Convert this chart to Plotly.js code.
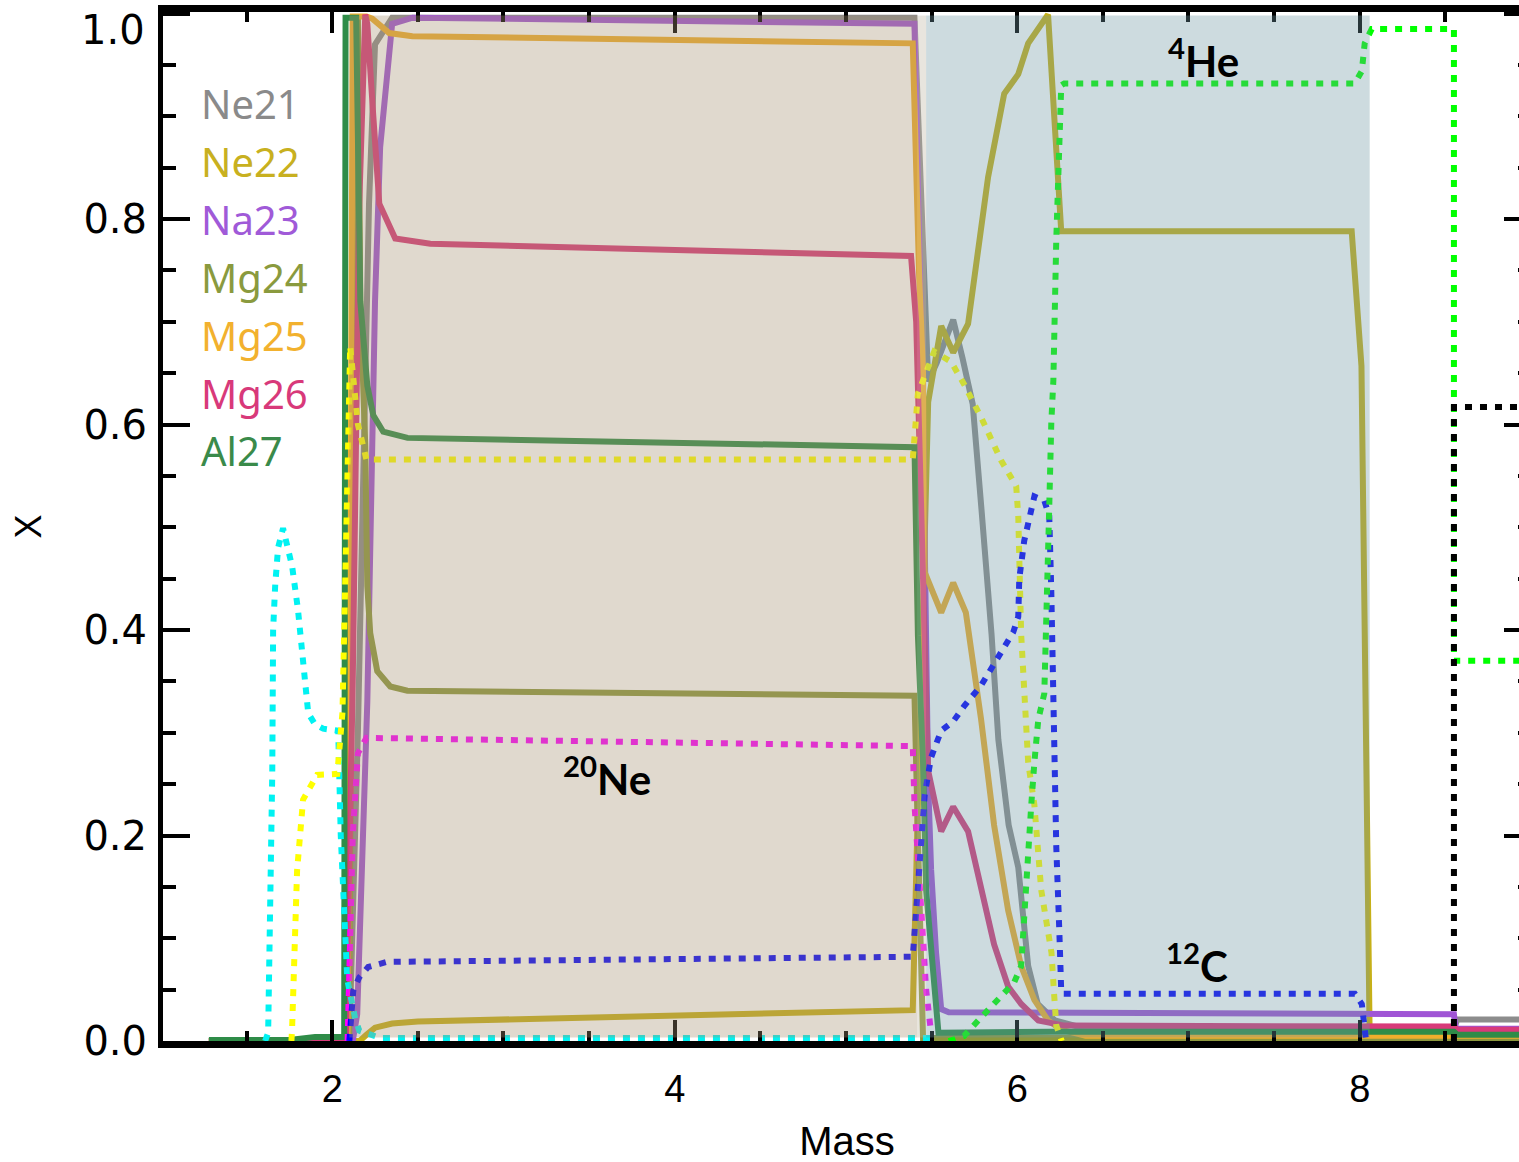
<!DOCTYPE html>
<html><head><meta charset="utf-8">
<script src="https://cdn.plot.ly/plotly-3.0.1.min.js"></script>
<style>html,body{margin:0;padding:0;overflow:hidden;background:#fff;width:1519px;height:1162px}#chart{width:1560px;height:1200px}</style>
</head><body><div id="chart"></div>
<script>
// ---- data (Mass coordinate, mass fraction X) ----
const ne21X = [1.28, 2.10, 2.15, 2.19, 2.215, 2.25, 2.35, 5.40, 5.48, 5.53, 5.626, 5.68, 5.74, 5.79, 5.85, 5.89, 5.95, 6.006, 6.064, 6.12, 6.22, 6.40, 8.55, 8.57, 9.00];
const ne21Y = [0, 0, 0.30, 0.60, 0.815, 0.97, 0.996, 0.996, 0.642, 0.66, 0.702, 0.665, 0.62, 0.52, 0.396, 0.293, 0.21, 0.169, 0.073, 0.036, 0.02, 0.012, 0.012, 0.021, 0.021];
const ne22X = [1.28, 2.16, 2.20, 2.25, 2.35, 2.50, 5.39, 5.43, 5.48, 5.556, 5.626, 5.713, 5.83, 5.924, 6.006, 6.064, 6.18, 6.257, 7.953, 8.01, 8.03, 8.058, 9.00];
const ne22Y = [0, 0, 0.006, 0.013, 0.017, 0.019, 0.030, 0.30, 0.622, 0.696, 0.67, 0.698, 0.841, 0.922, 0.941, 0.971, 0.999, 0.788, 0.788, 0.657, 0.33, 0.003, 0.003];
const na23X = [1.28, 2.12, 2.146, 2.205, 2.25, 2.28, 2.35, 2.47, 5.40, 5.45, 5.48, 5.497, 5.526, 5.556, 5.60, 8.55, 8.56, 9.00];
const na23Y = [0, 0, 0.026, 0.33, 0.72, 0.87, 0.99, 0.996, 0.99, 0.60, 0.25, 0.167, 0.086, 0.031, 0.028, 0.026, 0.012, 0.012];
const mg24X = [1.28, 2.10, 2.13, 2.15, 2.164, 2.193, 2.205, 2.222, 2.263, 2.339, 2.439, 5.40, 5.42, 5.45, 9.00];
const mg24Y = [0, 0, 0.996, 0.996, 0.72, 0.58, 0.443, 0.397, 0.36, 0.345, 0.341, 0.336, 0.20, 0.003, 0.003];
const mg25X = [1.28, 2.09, 2.11, 2.12, 2.20, 2.234, 2.333, 2.468, 5.39, 5.41, 5.427, 5.45, 5.46, 5.556, 5.626, 5.70, 5.789, 5.865, 5.947, 6.023, 6.10, 6.18, 6.257, 6.40, 9.00];
const mg25Y = [0, 0, 0.6, 0.997, 0.997, 0.995, 0.981, 0.978, 0.971, 0.844, 0.747, 0.65, 0.456, 0.417, 0.446, 0.417, 0.313, 0.21, 0.127, 0.073, 0.04, 0.02, 0.011, 0.005, 0.005];
const mg26X = [1.28, 2.08, 2.12, 2.158, 2.193, 2.205, 2.24, 2.275, 2.368, 2.573, 5.38, 5.41, 5.45, 5.48, 5.556, 5.626, 5.713, 5.789, 5.865, 5.947, 6.023, 6.123, 6.275, 8.55, 8.57, 9.00];
const mg26Y = [0, 0, 0.35, 0.815, 0.999, 0.99, 0.9, 0.815, 0.781, 0.776, 0.764, 0.70, 0.45, 0.263, 0.204, 0.228, 0.204, 0.148, 0.094, 0.053, 0.036, 0.02, 0.015, 0.014, 0.011, 0.011];
const al27X = [1.28, 1.75, 1.90, 2.05, 2.07, 2.078, 2.14, 2.164, 2.205, 2.24, 2.298, 2.44, 5.40, 5.42, 5.45, 5.468, 5.54, 6.20, 8.55, 8.57, 9.00];
const al27Y = [0.001, 0.001, 0.004, 0.004, 0.004, 0.996, 0.996, 0.72, 0.638, 0.609, 0.593, 0.587, 0.578, 0.395, 0.271, 0.147, 0.008, 0.009, 0.009, 0.006, 0.006];

const cyanX = [1.608, 1.626, 1.65, 1.655, 1.667, 1.684, 1.713, 1.766, 1.80, 1.825, 1.86, 1.90, 1.947, 2.035, 2.05, 2.088, 2.134, 2.158, 2.28, 5.41, 5.50];
const cyanY = [0, 0.008, 0.26, 0.40, 0.443, 0.48, 0.499, 0.462, 0.42, 0.375, 0.319, 0.308, 0.304, 0.302, 0.2, 0.06, 0.022, 0.01, 0.003, 0.003, 0.003];
const yellowX = [1.762, 1.766, 1.795, 1.83, 1.912, 2.03, 2.06, 2.08, 2.105, 2.15, 2.20, 5.39, 5.42, 5.515, 5.614, 5.69, 5.789, 5.906, 5.994, 6.006, 6.023, 6.064, 6.10, 6.14, 6.20, 6.216, 6.228, 6.26];
const yellowY = [0, 0.013, 0.166, 0.235, 0.259, 0.26, 0.32, 0.5, 0.676, 0.60, 0.566, 0.566, 0.63, 0.671, 0.661, 0.639, 0.607, 0.565, 0.54, 0.511, 0.396, 0.271, 0.23, 0.147, 0.086, 0.044, 0.015, 0];
const magentaX = [2.09, 2.12, 2.15, 2.20, 5.39, 5.40, 5.44, 5.468, 5.497];
const magentaY = [0, 0.2, 0.28, 0.295, 0.287, 0.23, 0.127, 0.05, 0.008];
const blueX = [2.10, 2.123, 2.158, 2.21, 2.32, 5.39, 5.42, 5.46, 5.497, 5.556, 5.626, 5.69, 5.789, 5.889, 5.977, 6.006, 6.012, 6.041, 6.10, 6.158, 6.187, 6.199, 6.211, 6.228, 6.246, 6.257, 6.27, 7.971, 8.012, 8.023, 8.035];
const blueY = [0, 0.049, 0.062, 0.072, 0.077, 0.082, 0.15, 0.24, 0.276, 0.302, 0.311, 0.326, 0.346, 0.375, 0.398, 0.413, 0.45, 0.487, 0.53, 0.526, 0.511, 0.437, 0.313, 0.189, 0.106, 0.048, 0.046, 0.046, 0.036, 0.02, 0.003];
const greenDotX = [5.60, 5.69, 5.789, 5.889, 5.982, 6.023, 6.041, 6.064, 6.082, 6.10, 6.123, 6.158, 6.17, 6.181, 6.187, 6.199, 6.211, 6.228, 6.246, 6.257, 6.275, 7.971, 8.012, 8.029, 8.07, 8.55, 8.55, 9.00];
const greenDotY = [0, 0.005, 0.023, 0.04, 0.057, 0.073, 0.127, 0.189, 0.23, 0.271, 0.313, 0.338, 0.396, 0.457, 0.52, 0.602, 0.643, 0.78, 0.878, 0.93, 0.932, 0.932, 0.944, 0.971, 0.985, 0.985, 0.37, 0.37];
const blackX = [8.55, 8.55, 9.00];
const blackY = [0, 0.617, 0.617];

// burning-zone boundaries (Mass)
const zoneStart = [2.10, 5.415, 5.468];
const zoneEnd   = [5.415, 5.468, 8.058];

const isotopeNames = ['Ne21', 'Ne22', 'Na23', 'Mg24', 'Mg25', 'Mg26', 'Al27'];
const labelTexts = ['<sup>4</sup>He', '<sup>20</sup>Ne', '<sup>12</sup>C'];
const yTickVals = [0, 0.2, 0.4, 0.6, 0.8, 1.0];
const yTickText = ['0.0', '0.2', '0.4', '0.6', '0.8', ''];
const yTopLabel = '1.0';
const xTickVals = [2, 4, 6, 8];

// ---- styles ----
const solidColors = ['#8c8c8c', '#c6b018', '#a055d5', '#8d983e', '#f0ae2c', '#d83a7a', '#2f8c48'];
const legendColors = ['#8a8a8a', '#c8b020', '#a05ad8', '#8a9a3e', '#f2b12e', '#d8397a', '#3a8a4a'];
const zoneColors = ['rgb(166,146,115)', 'rgb(189,181,161)', 'rgb(112,152,164)'];
const tickFont = {family: 'DejaVu Sans, sans-serif', size: 40, color: '#000'};

const solidSeries = [[ne21X, ne21Y], [ne22X, ne22Y], [na23X, na23Y], [mg24X, mg24Y], [mg25X, mg25Y], [mg26X, mg26Y], [al27X, al27Y]];
const dotSeries = [[cyanX, cyanY, '#00f2f2'], [yellowX, yellowY, '#ffff00'], [magentaX, magentaY, '#ff00ff'],
                   [blueX, blueY, '#0000ff'], [greenDotX, greenDotY, '#00ff00'], [blackX, blackY, '#000000']];

const traces = [];
solidSeries.forEach((s, i) => traces.push({
  x: s[0], y: s[1], type: 'scatter', mode: 'lines', name: isotopeNames[i],
  line: {color: solidColors[i], width: 6}, hoverinfo: 'skip', showlegend: false
}));
dotSeries.forEach(s => traces.push({
  x: s[0], y: s[1], type: 'scatter', mode: 'lines',
  line: {color: s[2], width: 6, dash: '7px,8px'}, hoverinfo: 'skip', showlegend: false
}));

const shapes = zoneStart.map((x0, i) => ({
  type: 'rect', xref: 'x', yref: 'paper', x0: x0, x1: zoneEnd[i], y0: 0.0035, y1: 0.9965,
  fillcolor: zoneColors[i], opacity: 0.35, line: {width: 0}, layer: 'above'
}));

const legendY = [0.9115, 0.855, 0.7986, 0.7422, 0.6858, 0.6294, 0.5739];
const annotations = isotopeNames.map((n, i) => ({
  text: n, xref: 'x', yref: 'paper', x: 1.22, y: legendY[i], xanchor: 'left', yanchor: 'middle',
  showarrow: false, font: {family: 'Noto Sans, DejaVu Sans, sans-serif', size: 40, color: legendColors[i]}
}));
const labelPos = [[7.09, 0.955], [3.605, 0.258], [7.05, 0.076]];
labelTexts.forEach((t, i) => annotations.push({
  text: '<b>' + t + '</b>', xref: 'x', yref: 'paper', x: labelPos[i][0], y: labelPos[i][1],
  xanchor: 'center', yanchor: 'middle', showarrow: false,
  font: {family: 'Lato, Open Sans, sans-serif', size: 42, color: '#000'}
}));
// top y tick label, drawn just below its tick as in the original figure
annotations.push({
  text: yTopLabel, xref: 'paper', yref: 'y', x: 0, y: yTickVals[5], xanchor: 'right', yanchor: 'middle',
  xshift: -16, yshift: -16, showarrow: false, font: tickFont
});

const layout = {
  width: 1560, height: 1200,
  margin: {l: 163, r: 29, t: 12, b: 159, pad: 0},
  paper_bgcolor: '#ffffff', plot_bgcolor: '#ffffff',
  showlegend: false,
  xaxis: {
    range: [1.012, 9.0], showline: true, linewidth: 7, linecolor: '#000', mirror: 'ticks',
    ticks: 'inside', ticklen: 21, tickwidth: 4, tickcolor: '#000', tickmode: 'array', tickvals: xTickVals,
    showgrid: false, zeroline: false, automargin: false,
    tickfont: {family: 'Liberation Sans, Arial, sans-serif', size: 38, color: '#000'},
    ticklabelstandoff: 8,
    minor: {dtick: 0.5, tick0: 0, ticklen: 10, tickwidth: 4, tickcolor: '#000', ticks: 'inside', showgrid: false},
    title: {text: 'Mass', font: {family: 'Liberation Sans, Arial, sans-serif', size: 40, color: '#000'}, standoff: 21}
  },
  yaxis: {
    range: [0, 1.0015], showline: true, linewidth: 5, linecolor: '#000', mirror: 'ticks',
    ticks: 'inside', ticklen: 27, tickwidth: 4, tickcolor: '#000', tickmode: 'array', tickvals: yTickVals, ticktext: yTickText,
    showgrid: false, zeroline: false, automargin: false,
    tickfont: tickFont,
    ticklabelstandoff: 3,
    minor: {dtick: 0.05, tick0: 0, ticklen: 13, tickwidth: 4, tickcolor: '#000', ticks: 'inside', showgrid: false},
    title: {text: 'X', font: {family: 'Liberation Sans, Arial, sans-serif', size: 36, color: '#000'}, standoff: 32}
  },
  shapes: shapes,
  annotations: annotations
};

Plotly.newPlot('chart', traces, layout, {displayModeBar: false, staticPlot: true});
</script></body></html>
